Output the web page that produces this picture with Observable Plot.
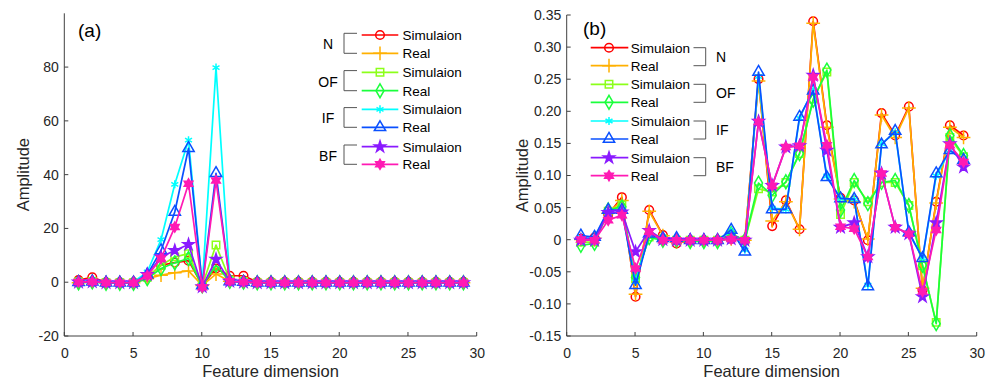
<!DOCTYPE html>
<html><head><meta charset="utf-8">
<script src="https://cdn.jsdelivr.net/npm/d3@7"></script>
<script src="https://cdn.jsdelivr.net/npm/@observablehq/plot@0.6"></script>
<style>
body{margin:0;background:#fff}
#wrap{display:flex;width:991px;height:383px;overflow:hidden}
svg{font-family:"Liberation Sans",Arial,Helvetica,sans-serif}
</style>
</head><body><div id="wrap"></div>
<script>
// ---------- data ----------
const dims = d3.range(1, 30); // feature dimension 1..29
const seriesLabels = ["Simulaion","Real","Simulaion","Real","Simulaion","Real","Simulaion","Real"];
const groupLabels = ["N","OF","IF","BF"];
const xTicks = [0,5,10,15,20,25,30];
const yTicksA = [-20,0,20,40,60,80];
const yTicksB = [-0.15,-0.10,-0.05,0,0.05,0.10,0.15,0.20,0.25,0.30,0.35];

// panel (a)
const aNSim  = [1,2,0.2,0.2,0.2,2,6.5,7.5,8.2,-1,5.3,2.6,2.6,0.3,0.3,0.3,0.3,0.3,0.3,0.3,0.3,0.3,0.3,0.3,0.3,0.3,0.3,0.3,0.3];
const aNReal = [0,0.3,0,0,0,1.5,2.8,3.7,4.4,-1,3.2,0.5,0.3,0,0,0,0,0,0,0,0,0,0,0,0,0,0,0,0];
const aOFSim = [0.3,0.5,0,0,0,2,6.5,9.6,10.8,-1,14,1,0.5,0,0,0,0,0,0,0,0,0,0,0,0,0,0,0,0];
const aOFReal= [0,0.3,-0.2,-0.2,-0.2,1.5,5.3,7.4,9,-1.2,6.5,0.5,0.2,0,0,0,0,0,0,0,0,0,0,0,0,0,0,0,0];
const aIFSim = [0.6,0.8,0.3,0.3,0.3,4,16,36.6,53,-1,80,1,0.8,0.4,0.4,0.4,0.4,0.4,0.4,0.4,0.4,0.4,0.4,0.4,0.4,0.4,0.4,0.4,0.4];
const aIFReal= [0.2,0.4,0,0,0,3,12,26.3,50,-1,40.7,0.5,0.3,0,0,0,0,0,0,0,0,0,0,0,0,0,0,0,0];
const aBFSim = [0.2,0.3,0,0,0,3,9.6,12,14.2,-1.5,8.7,0.5,0.2,0,0,0,0,0,0,0,0,0,0,0,0,0,0,0,0];
const aBFReal= [0.3,0.4,0,0,0,2.5,9,20.7,36.8,-1.7,38,0.5,0.3,0,0,0,0,0,0,0,0,0,0,0,0,0,0,0,0];

// panel (b)
const bNSim  = [0.002,0.004,0.040,0.067,-0.088,0.047,0.008,-0.005,0,0,0,0.002,0,0.251,0.022,0.062,0.017,0.341,0.179,0.066,0.062,0.000,0.198,0.163,0.208,-0.078,0.060,0.179,0.163];
const bNReal = [0.001,0.003,0.042,0.062,-0.084,0.045,0.007,-0.003,0,0,0,0.002,0,0.248,0.030,0.060,0.017,0.338,0.176,0.064,0.060,0.002,0.195,0.160,0.206,-0.075,0.058,0.176,0.160];
const bOFSim = [-0.003,-0.003,0.045,0.055,-0.060,0.005,0.002,0,0,0,0,0.008,0,0.080,0.075,0.090,0.135,0.220,0.262,0.040,0.090,0.060,0.090,0.090,0.054,-0.040,-0.128,0.160,0.130];
const bOFReal= [-0.008,-0.005,0.047,0.052,-0.058,0.004,0,0,-0.002,-0.002,-0.002,0.010,0,0.089,0.070,0.091,0.135,0.218,0.265,0.047,0.093,0.057,0.090,0.093,0.054,-0.039,-0.130,0.163,0.132];
const bIFSim = [0.005,0.004,0.045,0.047,-0.065,0.010,0,0.002,0,0,0,0.014,-0.015,0.255,0.050,0.048,0.190,0.235,0.100,0.065,0.064,-0.070,0.150,0.168,0.012,-0.028,0.100,0.140,0.125];
const bIFReal= [0.007,0.005,0.047,0.047,-0.070,0.010,0.003,0.003,0,0,0,0.016,-0.018,0.262,0.048,0.048,0.192,0.233,0.098,0.065,0.064,-0.072,0.149,0.170,0.012,-0.028,0.104,0.140,0.125];
const bBFSim = [0,0,0.043,0.044,-0.018,0.015,0.001,0,0,0,0,0.002,0,0.185,0.085,0.145,0.147,0.257,0.140,0.020,0.027,-0.026,0.104,0.020,0.010,-0.088,0.027,0.150,0.114];
const bBFReal= [0.001,0,0.031,0.039,-0.044,0.013,0,0,0,0,0,0.002,0,0.184,0.085,0.145,0.147,0.254,0.148,0.021,0.018,-0.026,0.104,0.020,0.010,-0.080,0.016,0.148,0.122];

// ---------- styles ----------
const seriesColors = ["#ff0000","#ffb000","#8cff1a","#1aff3c","#00ffff","#0a50ff","#8a1aff","#ff1ab4"];
const hexagram = {
  draw(ctx, size) {
    const R = Math.sqrt(size / Math.PI) * 1.25, r = R / Math.sqrt(3);
    for (let k = 0; k < 12; k++) {
      const a = -Math.PI / 2 + k * Math.PI / 6, rr = k % 2 ? r : R;
      const px = rr * Math.cos(a), py = rr * Math.sin(a);
      k ? ctx.lineTo(px, py) : ctx.moveTo(px, py);
    }
    ctx.closePath();
  }
};
const seriesSymbols = ["circle","plus","square","diamond","asterisk","triangle","star",hexagram];
const d3Symbols = [d3.symbolCircle,d3.symbolPlus,d3.symbolSquare,d3.symbolDiamond,d3.symbolAsterisk,d3.symbolTriangle,d3.symbolStar,hexagram];
const seriesR = [4.3,4.5,4.2,4.2,3.8,4.2,3.5,4.0];
const seriesFilled = [false,false,false,false,false,false,true,true];
const FONT = '"Liberation Sans",Arial,Helvetica,sans-serif';
const hy = s => s.replace("\u2212","-");

function panel(cfg) {
  const marks = [];
  cfg.series.forEach((vals, i) => {
    const rows = dims.map((d, j) => ({dim: d, amp: vals[j]}));
    marks.push(Plot.line(rows, {x: "dim", y: "amp", stroke: seriesColors[i], strokeWidth: 1.7}));
    marks.push(Plot.dot(rows, {x: "dim", y: "amp", symbol: seriesSymbols[i], r: seriesR[i],
      stroke: seriesColors[i], fill: seriesFilled[i] ? seriesColors[i] : "none", strokeWidth: 1.5}));
  });
  marks.push(Plot.axisX(xTicks, {tickSize: 0, tickPadding: 12, label: null, fontSize: 14, fill: "#262626"}));
  marks.push(Plot.axisY(cfg.yTicks, {tickSize: 0, tickPadding: 6, label: null, fontSize: 14, fill: "#262626", tickFormat: cfg.yFmt}));
  const svg = Plot.plot({
    width: cfg.width, height: 383,
    marginLeft: cfg.ml, marginRight: cfg.mr, marginTop: cfg.mt, marginBottom: 47,
    x: {domain: [0, 30]}, y: {domain: cfg.yDomain},
    style: {fontFamily: FONT, fontSize: "14px", background: "white", overflow: "visible"},
    marks
  });
  const X = v => svg.scale("x").apply(v), Y = v => svg.scale("y").apply(v);
  const g = d3.select(svg).append("g").attr("text-anchor", "start");
  const ax = "#404040";
  const y0 = Y(cfg.yDomain[0]), y1 = Y(cfg.yDomain[1]);
  g.append("line").attr("x1", X(0)).attr("x2", X(30)).attr("y1", y0).attr("y2", y0).attr("stroke", ax);
  g.append("line").attr("x1", X(0)).attr("x2", X(0)).attr("y1", y0).attr("y2", y1).attr("stroke", ax);
  xTicks.forEach(t => g.append("line").attr("x1", X(t)).attr("x2", X(t)).attr("y1", y0).attr("y2", y0 - 4).attr("stroke", ax));
  cfg.yTicks.forEach(t => g.append("line").attr("x1", X(0)).attr("x2", X(0) + 4).attr("y1", Y(t)).attr("y2", Y(t)).attr("stroke", ax));
  g.append("text").attr("x", (X(0) + X(30)) / 2).attr("y", 377).attr("text-anchor", "middle")
    .attr("font-size", 16.5).attr("fill", "#262626").text("Feature dimension");
  g.append("text").attr("transform", `translate(${cfg.ylx},${(y0 + y1) / 2}) rotate(-90)`).attr("dy", "0.35em")
    .attr("text-anchor", "middle").attr("font-size", 16.5).attr("fill", "#262626").text("Amplitude");
  g.append("text").attr("x", cfg.tagX).attr("y", cfg.tagY).attr("text-anchor", "start")
    .attr("font-size", 19).attr("fill", "#000").text(cfg.tag);

  // legend
  const L = cfg.legend;
  const lg = g.append("g").attr("font-size", 13.5).attr("fill", "#000").attr("text-anchor", "start");
  L.rows.forEach((ry, i) => {
    lg.append("line").attr("x1", L.lx1).attr("x2", L.lx2).attr("y1", ry).attr("y2", ry)
      .attr("stroke", seriesColors[i]).attr("stroke-width", 1.7);
    lg.append("path").attr("d", d3.symbol(d3Symbols[i], Math.PI * seriesR[i] ** 2)())
      .attr("transform", `translate(${L.mx},${ry})`)
      .attr("stroke", seriesColors[i]).attr("stroke-width", 1.5)
      .attr("fill", seriesFilled[i] ? seriesColors[i] : "none");
    lg.append("text").attr("x", L.tx).attr("y", ry).attr("dy", "0.36em").attr("text-anchor", "start").text(seriesLabels[i]);
  });
  groupLabels.forEach((gl, k) => {
    const ya = L.rows[2 * k], yb = L.rows[2 * k + 1];
    lg.append("path").attr("d", `M${L.bx1},${ya - L.bOff}H${L.bx2}V${yb}H${L.bx1}`)
      .attr("fill", "none").attr("stroke", "#555").attr("stroke-width", 1);
    lg.append("text").attr("x", L.gx).attr("y", (ya + yb) / 2).attr("dy", "0.36em")
      .attr("text-anchor", L.ganchor).attr("font-size", 14).text(gl);
  });
  return svg;
}

const wrap = document.getElementById("wrap");
wrap.appendChild(panel({
  series: [aNSim,aNReal,aOFSim,aOFReal,aIFSim,aIFReal,aBFSim,aBFReal],
  width: 500, ml: 64.3, mr: 23.3, mt: 13.3,
  yDomain: [-20, 100], yTicks: yTicksA, yFmt: v => hy(String(v)),
  ylx: 23.5, tag: "(a)", tagX: 78, tagY: 37,
  legend: {rows: [35,53.3,72.3,90.7,109.3,127.3,146.7,164.3], lx1: 361.7, lx2: 398.3, mx: 380, tx: 402.5,
           bx1: 357, bx2: 344, bOff: 1.7, gx: 328, ganchor: "middle"}
}));
wrap.appendChild(panel({
  series: [bNSim,bNReal,bOFSim,bOFReal,bIFSim,bIFReal,bBFSim,bBFReal],
  width: 491, ml: 66.7, mr: 14.3, mt: 15,
  yDomain: [-0.15, 0.35], yTicks: yTicksB, yFmt: v => Math.abs(v) < 1e-9 ? "0" : hy(d3.format(".2f")(v)),
  ylx: 22.5, tag: "(b)", tagX: 83, tagY: 35,
  legend: {rows: [47.7,65.7,84.3,102.3,121,139,157.7,175.7], lx1: 90.7, lx2: 128.3, mx: 109, tx: 130.7,
           bx1: 193.5, bx2: 205.7, bOff: 0, gx: 216, ganchor: "start"}
}));
</script>
</body></html>
